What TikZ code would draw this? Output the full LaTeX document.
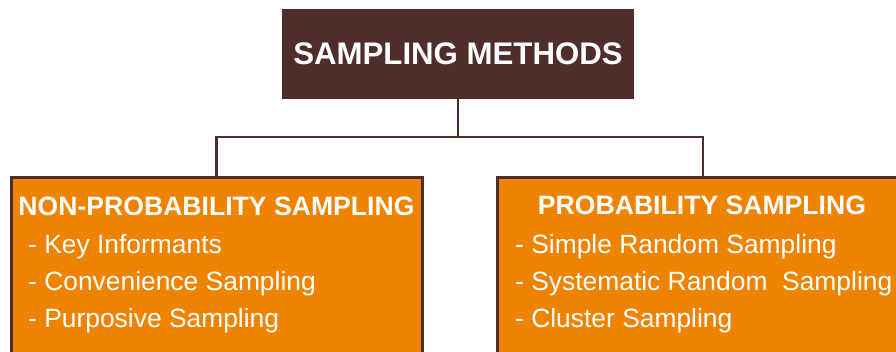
\documentclass[tikz,border=0pt]{standalone}
\usepackage{fontspec}
\setmainfont{Liberation Sans}
\definecolor{methodbrown}{RGB}{78,45,43}
\definecolor{boxorange}{RGB}{238,131,0}

\begin{document}
\begin{tikzpicture}[x=1pt, y=-1pt,
        link/.style={draw=methodbrown, line width=2.8pt},
        groupbox/.style={draw=methodbrown, line width=3pt, fill=boxorange,
            minimum width=411pt, minimum height=220pt, anchor=north},
        heading/.style={text=white, inner sep=0pt, anchor=base,
            font=\fontsize{26.6}{30}\selectfont\bfseries},
        item/.style={text=white, inner sep=0pt, anchor=base west,
            font=\fontsize{26.4}{30}\selectfont}]
        \useasboundingbox (0, 0) rectangle (896, 351);
        \clip (0, 0) rectangle (896, 351);
        \node[fill=methodbrown, minimum width=352pt, minimum height=90pt, text=white,
            font=\fontsize{31.2}{36}\selectfont\bfseries] (methods) at (458, 54) {SAMPLING METHODS};
        \node[groupbox] (nonprob) at (216.5, 176) {};
        \node[groupbox] (prob) at (703, 176) {};
        \coordinate (split) at (458, 137);
        \draw[link] (methods.south) -- (split);
        \draw[link] (nonprob.north) |- (split) -| (prob.north);
        \node[heading] (nonprobhead) at (216.5, 215) {NON-PROBABILITY SAMPLING};
        \node[heading] (probhead) at (702, 214) {PROBABILITY SAMPLING};
        \foreach \name/\y/\txt in {keyinf/253/Key Informants, conv/290/Convenience Sampling,
            purp/327/Purposive Sampling}
            \node[item] (\name) at (28, \y) {- \txt};
        \foreach \name/\y/\txt in {simple/253/Simple Random Sampling,
            system/290/Systematic Random\ \ Sampling, cluster/327/Cluster Sampling}
            \node[item] (\name) at (515, \y) {- \txt};
    \end{tikzpicture}
\end{document}
